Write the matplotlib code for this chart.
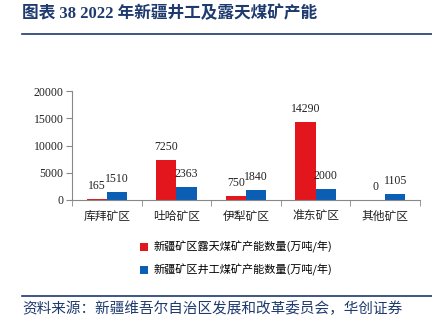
import matplotlib
matplotlib.use("Agg")
import matplotlib.pyplot as plt
import numpy as np
from matplotlib.lines import Line2D
from matplotlib.patches import Patch

plt.rcParams['font.family'] = ['Liberation Serif', 'Noto Sans CJK SC', 'DejaVu Sans']

categories = ['库拜矿区', '吐哈矿区', '伊犁矿区', '准东矿区', '其他矿区']
open_pit = [165, 7250, 750, 14290, 0]
underground = [1510, 2363, 1840, 2000, 1105]
series_names = ['新疆矿区露天煤矿产能数量(万吨/年)', '新疆矿区井工煤矿产能数量(万吨/年)']
yticks = [0, 5000, 10000, 15000, 20000]

title_text = '图表 38 2022 年新疆井工及露天煤矿产能'
source_text = '资料来源：新疆维吾尔自治区发展和改革委员会，华创证券'

RED = '#E3161E'
BLUE = '#0A5EB4'
NAVY = '#1F3A6E'
CJK = ['Noto Sans CJK SC', 'DejaVu Sans']
MIXED = ['Liberation Serif', 'Noto Sans CJK SC', 'DejaVu Sans']

fig = plt.figure(figsize=(4.32, 3.25), dpi=100)
ax = fig.add_axes([72 / 432, 125 / 325, 348 / 432, 109 / 325])

x = np.arange(len(categories))
w = 0.29
b1 = ax.bar(x - w / 2, open_pit, width=w, color=RED, label=series_names[0])
b2 = ax.bar(x + w / 2, underground, width=w, color=BLUE, label=series_names[1])

for bars, vals in ((b1, open_pit), (b2, underground)):
    for rect, v in zip(bars, vals):
        ax.annotate(f'{v}', (rect.get_x() + rect.get_width() / 2, v),
                    xytext=(0, 9.5), textcoords='offset points',
                    ha='center', va='center', fontsize=8.5,
                    family=MIXED, color='#222222')

ax.set_xlim(-0.5, len(categories) - 0.5)
ax.set_ylim(0, 20000)
ax.set_yticks(yticks)
ax.set_yticklabels([str(t) for t in yticks], fontsize=8.5, family=MIXED, color='#222222')

ax.set_xticks(x)
ax.set_xticklabels(categories, fontsize=8.5, family=CJK, color='#222222')
ax.tick_params(axis='x', length=0, pad=7)
ax.set_xticks(np.arange(-0.5, len(categories), 1.0), minor=True)
ax.tick_params(axis='x', which='minor', length=4, color='#888888', direction='out')
ax.tick_params(axis='y', length=4, color='#888888', direction='out', pad=2)

for s in ('top', 'right'):
    ax.spines[s].set_visible(False)
for s in ('left', 'bottom'):
    ax.spines[s].set_color('#888888')
    ax.spines[s].set_linewidth(0.8)

handles = [Patch(facecolor=RED, edgecolor='none'), Patch(facecolor=BLUE, edgecolor='none')]
fig.legend(handles, series_names, loc='upper left',
           bbox_to_anchor=(130 / 432, 1 - 231 / 325), frameon=False,
           prop={'family': CJK, 'size': 8}, handlelength=0.7, handleheight=0.7,
           handletextpad=0.5, labelspacing=1.0)

fig.text(22 / 432, 1 - 14 / 325, title_text, fontsize=12, fontweight='bold',
         color=NAVY, family=MIXED, va='center', ha='left')
fig.add_artist(Line2D([22 / 432, 1.0], [1 - 34 / 325] * 2, color=NAVY, lw=1.2))
fig.add_artist(Line2D([22 / 432, 1.0], [1 - 296 / 325] * 2, color=NAVY, lw=1.2))
fig.text(22 / 432, 1 - 309 / 325, source_text, fontsize=10.5, color=NAVY,
         family=CJK, va='center', ha='left', style='italic')

fig.savefig('out.png', dpi=100)
